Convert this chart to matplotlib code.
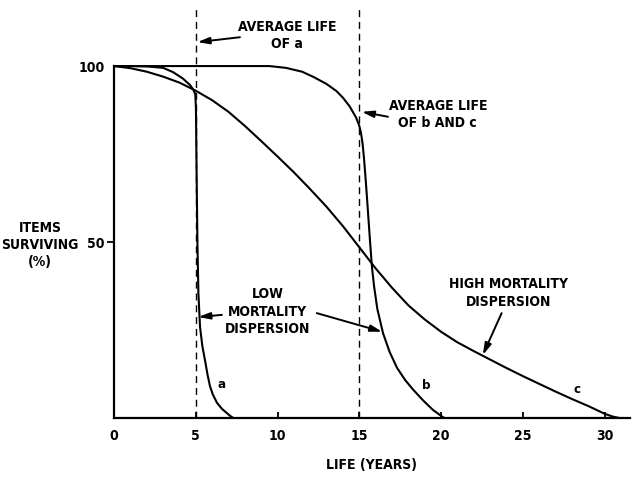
"""Survivor curves: low vs. high mortality dispersion around an average life."""

import numpy as np
import matplotlib.pyplot as plt

# ============================================================================
# CURVE DATA (life in years, percent of items still in service)
# ============================================================================

# a: short average life (5 yr), low dispersion
a_years = [0, 1, 2, 3, 3.6, 4.2, 4.65, 4.85, 4.97, 5.01, 5.05, 5.1, 5.16,
           5.26, 5.4, 5.56, 5.72, 5.87, 6.05, 6.3, 6.6, 6.9, 7.1, 7.3]
a_surv = [100, 100, 99.9, 99.5, 98.3, 96.5, 94.6, 93.3, 92, 88, 70, 50, 35.5,
          25.9, 20.5, 16.5, 12.3, 9.0, 6.6, 4.3, 2.6, 1.4, 0.6, 0]

# b: 15 yr average life, low dispersion
b_years = [0, 6, 9.5, 10.5, 11.5, 12.2, 13, 13.6, 14.0, 14.4, 14.8, 15.0,
           15.1, 15.2, 15.3, 15.4, 15.5, 15.65, 15.77, 15.9, 16.1, 16.45,
           16.85, 17.3, 17.8, 18.3, 18.9, 19.5, 20.0, 20.2]
b_surv = [100, 100, 100, 99.5, 98.4, 96.9, 94.9, 92.9, 91.0, 88.6, 85.4, 83.0,
          81.0, 78.0, 73, 67, 60.5, 50.5, 43, 37.5, 31, 24.1,
          18.8, 14.3, 10.8, 8.0, 5.0, 2.3, 0.6, 0]

# c: 15 yr average life, high dispersion
c_years = [0, 1, 2, 3, 4, 5, 6, 7, 8, 9, 10, 11, 12, 13, 14, 15, 16, 17, 18,
           19, 20, 21, 22, 23, 24, 25, 26, 27, 28, 29, 30, 30.5, 30.9]
c_surv = [100, 99.4, 98.4, 97, 95.3, 93, 90.3, 87, 83, 78.7, 74.3, 69.8, 65,
          60, 54.5, 48.5, 42.5, 37, 32, 28, 24.5, 21.5, 19, 16.6, 14.2, 11.9,
          9.7, 7.5, 5.4, 3.4, 1.2, 0.4, 0]

avg_life = [5, 15]
x_ticks = [0, 5, 10, 15, 20, 25, 30]
y_ticks = [50, 100]

plt.rcParams['font.family'] = ['DejaVu Sans']
plt.rcParams['font.stretch'] = 'condensed'
plt.rcParams['font.weight'] = 'bold'

# ============================================================================
# FIGURE
# ============================================================================

px_w, px_h = 633, 482
fig = plt.figure(figsize=(px_w / 100, px_h / 100), dpi=100)
ax = fig.add_axes([114 / px_w, 64 / px_h, 516 / px_w, 410 / px_h])

ax.set_xlim(0, 31.55)
ax.set_ylim(0, 116.5)

for xs, ys in [(a_years, a_surv), (b_years, b_surv), (c_years, c_surv)]:
    ax.plot(xs, ys, color='black', lw=1.5, solid_joinstyle='round')

for x in avg_life:
    ax.axvline(x, color='black', lw=1.0, ls=(0, (5, 3.5)))

# axes styling: only left/bottom spines
for side in ['top', 'right']:
    ax.spines[side].set_visible(False)
ax.spines['left'].set_bounds(0, 100)
ax.spines['left'].set_linewidth(1.6)
ax.spines['bottom'].set_linewidth(1.6)

ax.set_xticks(x_ticks)
ax.set_xticklabels([str(t) for t in x_ticks])
ax.set_yticks(y_ticks)
ax.set_yticklabels([str(t) for t in y_ticks])
ax.tick_params(axis='x', direction='in', length=4, width=1.3, pad=8,
               labelsize=10)
ax.tick_params(axis='y', direction='out', length=5, width=1.3, pad=1.5,
               labelsize=10)
ax.yaxis.get_major_ticks()[1].tick1line.set_visible(False)

ax.set_xlabel('LIFE (YEARS)', fontsize=10, fontweight='bold', labelpad=11)
fig.text(40 / px_w, 1 - 245 / px_h, 'ITEMS\nSURVIVING\n(%)', ha='center',
         va='center', fontsize=10, fontweight='bold', linespacing=1.25)

# ============================================================================
# ANNOTATIONS
# ============================================================================

arrow = dict(arrowstyle='-|>,head_length=0.7,head_width=0.2', color='black',
             lw=1.4, shrinkA=0, shrinkB=0)
txt = dict(fontsize=10, fontweight='bold', ha='center', va='center',
           linespacing=1.3)

ax.annotate('', xy=(5.1, 106.8), xytext=(7.7, 108.2), arrowprops=arrow)
ax.text(10.6, 108.6, 'AVERAGE LIFE\nOF a', **txt)

ax.annotate('', xy=(15.15, 87.0), xytext=(16.75, 85.6), arrowprops=arrow)
ax.text(19.8, 86.2, 'AVERAGE LIFE\nOF b AND c', **txt)

ax.text(9.4, 30.2, 'LOW\nMORTALITY\nDISPERSION', **txt)
ax.annotate('', xy=(5.15, 28.7), xytext=(6.6, 29.3), arrowprops=arrow)
ax.annotate('', xy=(16.4, 24.5), xytext=(12.4, 29.8), arrowprops=arrow)

ax.text(24.1, 35.5, 'HIGH MORTALITY\nDISPERSION', **txt)
ax.annotate('', xy=(22.55, 17.9), xytext=(23.7, 29.8), arrowprops=arrow)

lbl = dict(fontsize=9.5, fontweight='bold', ha='center', va='center')
ax.text(6.6, 9.4, 'a', **lbl)
ax.text(19.1, 9.1, 'b', **lbl)
ax.text(28.3, 8.0, 'c', **lbl)

fig.savefig('out.png', dpi=100)
